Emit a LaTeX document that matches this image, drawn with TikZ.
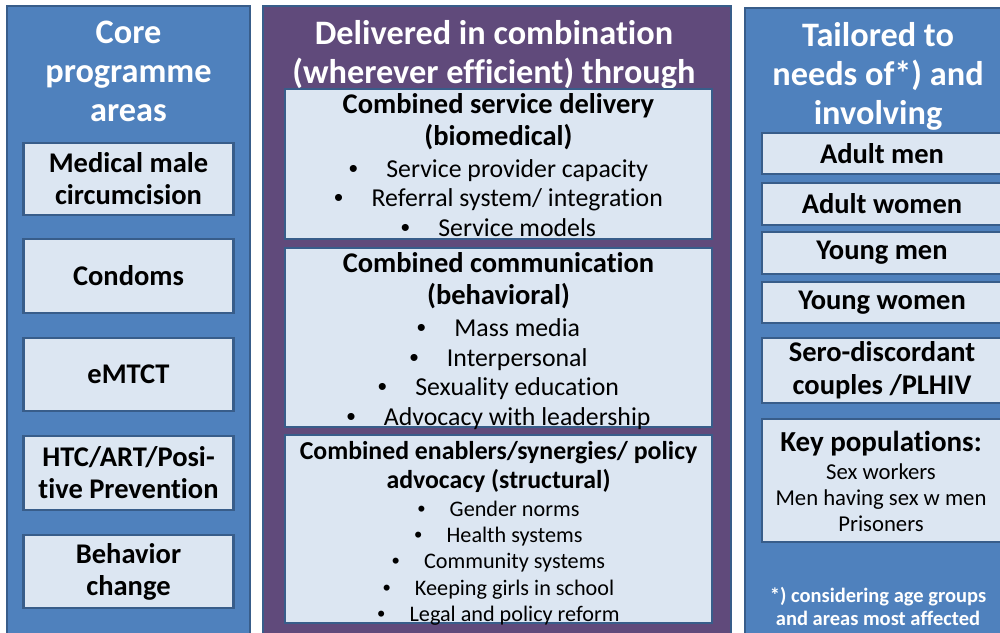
\documentclass[tikz,border=0pt]{standalone}
\usepackage{fontspec}
\setmainfont{Carlito}[Ligatures=NoCommon]
\newfontfamily\bulfont{Liberation Sans}
\definecolor{pblue}{HTML}{4F81BD}
\definecolor{ppurple}{HTML}{604A7B}
\definecolor{light}{HTML}{DCE6F2}
\definecolor{bord}{HTML}{385D8A}
\newcommand\bl[1]{{\bulfont\char"2022}\hspace{1.1em}#1}
\begin{document}
\begin{tikzpicture}[x=1pt,y=-1pt,
  panelB/.style={draw=bord, line width=2pt, fill=pblue, inner sep=0pt},
  panelP/.style={draw=bord, line width=2pt, fill=ppurple, inner sep=0pt},
  ibox/.style={draw=bord, line width=2.5pt, fill=light, inner sep=0pt, align=center, text=black},
  ptitle/.style={text=white, font=\bfseries\fontsize{34.3}{39}\selectfont, align=center, inner sep=0pt},
  lbox/.style={ibox, minimum width=210pt, font=\bfseries\fontsize{28.5}{32}\selectfont},
  rbox/.style={ibox, minimum width=240pt, font=\bfseries\fontsize{28.5}{33}\selectfont},
  mbox/.style={ibox, minimum width=427pt},
  mtitle/.style={align=center, inner sep=0pt, font=\bfseries\fontsize{28.5}{32}\selectfont},
  mbul/.style={align=center, inner sep=0pt, font=\fontsize{25.8}{29.5}\selectfont},
  mtitlesm/.style={align=center, inner sep=0pt, font=\bfseries\fontsize{25.8}{29}\selectfont},
  mbulsm/.style={align=center, inner sep=0pt, font=\fontsize{22.2}{26.3}\selectfont}]
\useasboundingbox (0,0) rectangle (1000,632);
\clip (0,0) rectangle (1000,632);
% panels
\node[panelB, minimum width=243pt, minimum height=634pt] (left) at (128.5,323) {};
\node[panelP, minimum width=468pt, minimum height=634pt] (mid) at (497,323) {};
\node[panelB, minimum width=267pt, minimum height=632pt] (right) at (878.5,324) {};
% titles
\node[ptitle] (ltitle) at (128.5,71.5) {Core\\programme\\areas};
\node[ptitle] (mtitle) at (494,55) {Delivered in combination\\(wherever efficient) through};
\node[ptitle] (rtitle) at (878,76) {Tailored to\\needs of*) and\\involving};
% left boxes
\node[lbox, minimum height=72pt] (mmc) at (128.5,179) {Medical male\\circumcision};
\node[lbox, minimum height=74pt] (cond) at (128.5,276) {Condoms};
\node[lbox, minimum height=73pt] (emtct) at (128.5,374.5) {eMTCT};
\node[lbox, minimum height=74pt] (htc) at (128.5,473) {HTC/ART/Posi-\\tive Prevention};
\node[lbox, minimum height=73pt] (beh) at (128.5,571.5) {Behavior\\change};
% middle boxes
\node[mbox, minimum height=150pt] (bio) at (498.5,164) {};
\node[mtitle] (biot) at (498.5,122) {Combined service delivery\\(biomedical)};
\node[mbul] (biob) at (498.5,198) {\bl{Service provider capacity}\\\bl{Referral system/ integration}\\\bl{Service models}};
\node[mbox, minimum height=179pt] (beh2) at (498.5,337.5) {};
\node[mtitle] (beht) at (498.5,281) {Combined communication\\(behavioral)};
\node[mbul] (behb) at (498.5,374) {\bl{Mass media}\\\bl{Interpersonal}\\\bl{Sexuality education}\\\bl{Advocacy with leadership}};
\node[mbox, minimum height=188pt] (str) at (498.5,529) {};
\node[mtitlesm] (strt) at (498.5,467) {Combined enablers/synergies/ policy\\advocacy (structural)};
\node[mbulsm] (strb) at (498.5,563) {\bl{Gender norms}\\\bl{Health systems}\\\bl{Community systems}\\\bl{Keeping girls in school}\\\bl{Legal and policy reform}};
% right boxes
\node[rbox, minimum height=41pt] (am) at (882,153.5) {Adult men};
\node[rbox, minimum height=42pt] (aw) at (882,204) {Adult women};
\node[rbox, minimum height=42pt] (ym) at (882,253) {Young men};
\node[rbox, minimum height=41pt] (yw) at (882,302.5) {Young women};
\node[rbox, minimum height=65pt] (sero) at (882,370.5) {Sero-discordant\\couples /PLHIV};
\node[rbox, minimum height=123pt] (key) at (882,480.5) {};
\node[inner sep=0pt, font=\bfseries\fontsize{29}{33}\selectfont] (keyt) at (881,444) {Key populations:};
\node[align=center, inner sep=0pt, font=\fontsize{22.7}{26}\selectfont] (keyb) at (881,497.5) {Sex workers\\Men having sex w men\\Prisoners};
\node[align=center, inner sep=0pt, text=white, font=\bfseries\fontsize{20.5}{23}\selectfont] (foot) at (878,606.5) {*) considering age groups\\and areas most affected};
\end{tikzpicture}
\end{document}
